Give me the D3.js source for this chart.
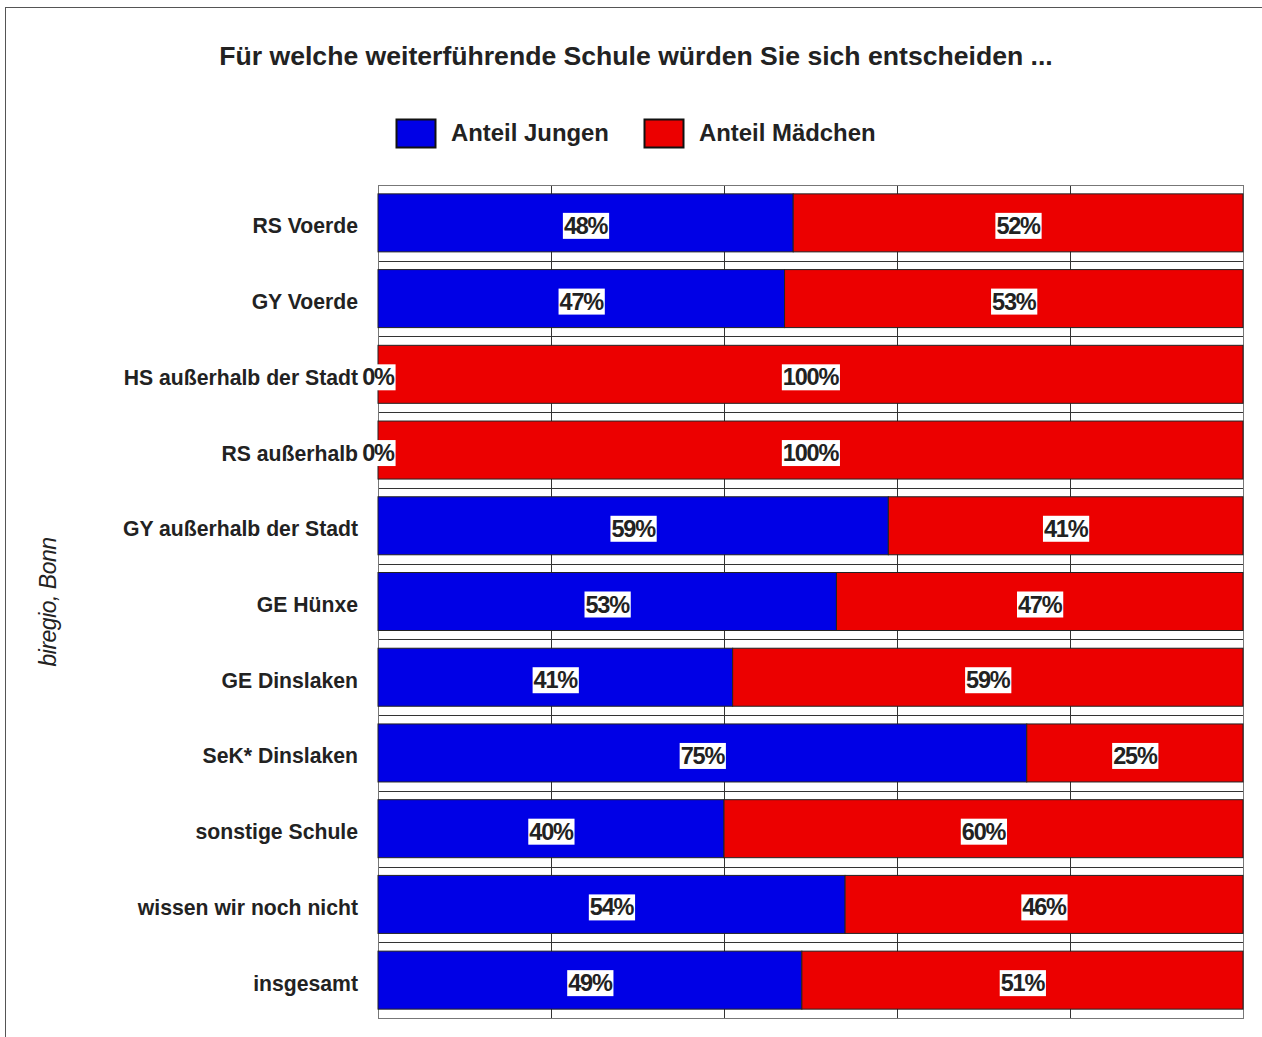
<!DOCTYPE html>
<html><head><meta charset="utf-8">
<script src="https://cdn.jsdelivr.net/npm/d3@7"></script>
<style>body{margin:0;background:#fff}svg{display:block}</style>
</head><body>
<script>
const categories = ["RS Voerde","GY Voerde","HS außerhalb der Stadt","RS außerhalb","GY außerhalb der Stadt","GE Hünxe","GE Dinslaken","SeK* Dinslaken","sonstige Schule","wissen wir noch nicht","insgesamt"];
const jungen = [48,47,0,0,59,53,41,75,40,54,49];
const maedchen = [52,53,100,100,41,47,59,25,60,46,51];
const seriesNames = ["Anteil Jungen","Anteil Mädchen"];
const colors = ["#0000e6","#ec0000"];
const xTicks = [0,20,40,60,80,100];

const W=1262,H=1037;
const svg=d3.select("body").append("svg").attr("width",W).attr("height",H);
const font="'Liberation Sans', Arial, sans-serif";
const m={l:378,r:1243,t:185,b:1018};
svg.append("rect").attr("x",5.5).attr("y",7.5).attr("width",1262).attr("height",1040).attr("fill","none").attr("stroke","#555");

svg.append("text").attr("x",636).attr("y",65).attr("text-anchor","middle")
 .attr("font-family",font).attr("font-weight","bold").attr("font-size",26.6).attr("fill","#222")
 .text("Für welche weiterführende Schule würden Sie sich entscheiden ...");

// legend
const lg=[{x:396,tx:451},{x:644,tx:699}];
lg.forEach((d,i)=>{
 svg.append("rect").attr("x",d.x+0.5).attr("y",119.5).attr("width",39).attr("height",28).attr("fill",colors[i]).attr("stroke","#111").attr("stroke-width",2);
 svg.append("text").attr("x",d.tx).attr("y",141).attr("font-family",font).attr("font-weight","bold").attr("font-size",23.9).attr("fill","#222").text(seriesNames[i]);
});

const x=d3.scaleLinear().domain([0,100]).range([m.l,m.r]);
const y=d3.scaleBand().domain(categories).range([m.t,m.b]).paddingInner(0.234).paddingOuter(0.117);

const g=svg.append("g");
g.selectAll("line.v").data(xTicks).join("line")
 .attr("x1",d=>Math.round(x(d))+0.5).attr("x2",d=>Math.round(x(d))+0.5)
 .attr("y1",m.t).attr("y2",m.b).attr("stroke","#333").attr("stroke-width",1);
const bounds=d3.range(categories.length+1).map(i=>m.t+i*(m.b-m.t)/categories.length);
g.selectAll("line.h").data(bounds).join("line")
 .attr("x1",m.l).attr("x2",m.r).attr("y1",d=>Math.round(d)+0.5).attr("y2",d=>Math.round(d)+0.5)
 .attr("stroke","#333").attr("stroke-width",1);
svg.append("rect").attr("x",m.l+0.5).attr("y",m.t+0.5).attr("width",m.r-m.l).attr("height",m.b-m.t).attr("fill","none").attr("stroke","#777");

const rows=categories.map((c,i)=>({c,j:jungen[i],m:maedchen[i]}));
rows.forEach(r=>{
 const y0=y(r.c), h=y.bandwidth();
 if(r.j>0) svg.append("rect").attr("x",x(0)).attr("y",y0).attr("width",x(r.j)-x(0)).attr("height",h).attr("fill",colors[0]).attr("stroke","#222").attr("stroke-width",1);
 svg.append("rect").attr("x",x(r.j)).attr("y",y0).attr("width",x(r.j+r.m)-x(r.j)).attr("height",h).attr("fill",colors[1]).attr("stroke","#222").attr("stroke-width",1);
});
function label(cx,cy,t){
 const tg=svg.append("g");
 const tx=tg.append("text").attr("x",cx).attr("y",cy+11).attr("text-anchor","middle")
  .attr("font-family",font).attr("font-weight","bold").attr("font-size",23.5).attr("letter-spacing","-1.2px").attr("fill","#222").text(t);
 const bb=tx.node().getBBox();
 tg.insert("rect","text").attr("x",bb.x-1).attr("y",cy-10).attr("width",bb.width+1.5).attr("height",26).attr("fill","#fff");
}
rows.forEach(r=>{
 const cy=y(r.c)+y.bandwidth()/2;
 label((x(0)+x(r.j))/2,cy,r.j+"%");
 label((x(r.j)+x(r.j+r.m))/2,cy,r.m+"%");
});
svg.selectAll("text.cat").data(categories).join("text")
 .attr("x",358).attr("y",d=>y(d)+y.bandwidth()/2+10.5).attr("text-anchor","end")
 .attr("font-family",font).attr("font-weight","bold").attr("font-size",21.2).attr("fill","#222").text(d=>d);

svg.append("text").attr("transform","translate(56,602) rotate(-90)").attr("text-anchor","middle")
 .attr("font-family",font).attr("font-style","italic").attr("font-size",23).attr("letter-spacing","-0.5px").attr("fill","#222").text("biregio, Bonn");
</script>
</body></html>
